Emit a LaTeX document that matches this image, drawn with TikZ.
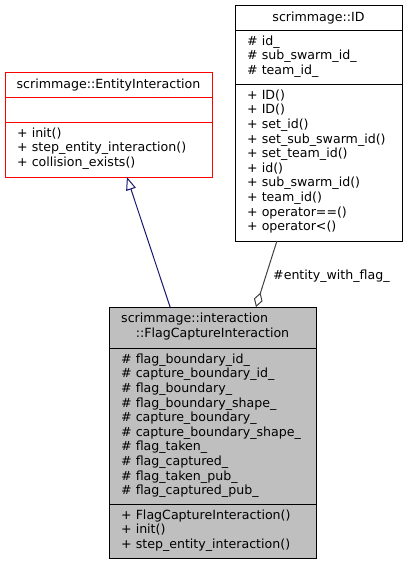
\documentclass[tikz,border=0pt]{standalone}
\usepackage{fontspec}
\setmainfont{DejaVu Sans}
\usetikzlibrary{arrows.meta,calc}
\definecolor{edgegray}{HTML}{404040}
\definecolor{navyline}{HTML}{191970}
\definecolor{boxfill}{HTML}{BFBFBF}
\definecolor{redline}{HTML}{FF0000}
\begin{document}
\begin{tikzpicture}[x=1pt,y=-1pt,
  box/.style={draw, line width=1pt, inner sep=0pt, outer sep=0pt, anchor=north west},
  txt/.style={font=\fontsize{12.6}{14.6}\selectfont, inner sep=0pt, align=left, anchor=north west},
  ttl/.style={font=\fontsize{12.6}{14.6}\selectfont, inner sep=0pt, anchor=base}]
\useasboundingbox (0,0) rectangle (405,565);

% scrimmage::EntityInteraction
\node[box, draw=redline, fill=white, minimum width=207pt, minimum height=105pt] (ei) at (5,72) {};
\draw[redline, line width=1pt] (5,97) -- (212,97) (5,122) -- (212,122);
\node[ttl] (eit) at (108.5,88) {scrimmage::EntityInteraction};
\node[txt] (eim) at (17,126.78) {\strut+ init()\\+ step\_entity\_interaction()\\+ collision\_exists()};

% scrimmage::ID
\node[box, draw=black, fill=white, minimum width=167pt, minimum height=236pt] (id) at (235,5) {};
\draw[black, line width=1pt] (235,30) -- (402,30) (235,84) -- (402,84);
\node[ttl] (idt) at (318.5,21) {scrimmage::ID};
\node[txt] (ida) at (247,34.78) {\strut\# id\_\\\# sub\_swarm\_id\_\\\# team\_id\_};
\node[txt] (idm) at (247,88.78) {\strut+ ID()\\+ ID()\\+ set\_id()\\+ set\_sub\_swarm\_id()\\+ set\_team\_id()\\+ id()\\+ sub\_swarm\_id()\\+ team\_id()\\+ operator==()\\+ operator<()};

% scrimmage::interaction::FlagCaptureInteraction
\node[box, draw=black, fill=boxfill, minimum width=207pt, minimum height=251pt] (fc) at (109,307) {};
\draw[black, line width=1pt] (109,348) -- (316,348) (109,504) -- (316,504);
\node[ttl, anchor=base west] (fct1) at (121,322) {scrimmage::interaction};
\node[ttl] (fct2) at (212.5,337) {::FlagCaptureInteraction};
\node[txt] (fca) at (121,352.78) {\strut\# flag\_boundary\_id\_\\\# capture\_boundary\_id\_\\\# flag\_boundary\_\\\# flag\_boundary\_shape\_\\\# capture\_boundary\_\\\# capture\_boundary\_shape\_\\\# flag\_taken\_\\\# flag\_captured\_\\\# flag\_taken\_pub\_\\\# flag\_captured\_pub\_};
\node[txt] (fcm) at (121,508.78) {\strut+ FlagCaptureInteraction()\\+ init()\\+ step\_entity\_interaction()};

% inheritance
\draw[navyline, line width=1pt, -{Triangle[open, length=13pt, width=10pt]}]
  ($(fc.north west)!0.295!(fc.north east)$) -- ($(ei.south west)!0.589!(ei.south east)$);

% aggregation
\draw[edgegray, line width=1pt, {Diamond[open, length=15pt, width=9pt]}-]
  ($(fc.north west)!0.71!(fc.north east)$) -- ($(id.south west)!0.251!(id.south east)$);
\node[ttl, anchor=base west] (lbl) at (273,279) {\#entity\_with\_flag\_};
\end{tikzpicture}
\end{document}
